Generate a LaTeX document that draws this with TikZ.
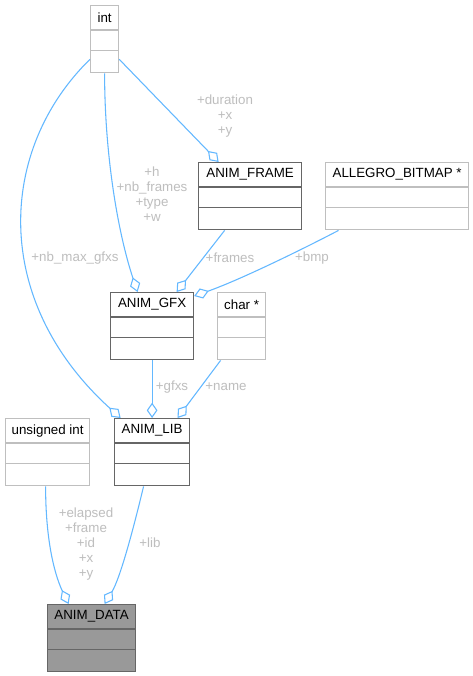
\documentclass[tikz,border=0pt]{standalone}
\usepackage{fontspec}
\setmainfont{Liberation Sans}
\usetikzlibrary{arrows.meta}
\definecolor{edgeblue}{HTML}{63B8FF}
\definecolor{labelgray}{HTML}{BEBEBE}
\definecolor{boxdark}{HTML}{666666}
\definecolor{boxlight}{HTML}{BFBFBF}
\definecolor{boxfill}{HTML}{999999}
\tikzset{
  cls/.style={line width=0.9pt, minimum height=18pt, inner sep=0pt, anchor=north west,
    font=\fontsize{10}{12}\selectfont},
  darkcls/.style={draw=boxdark},
  lightcls/.style={draw=boxlight},
  filledcls/.style={draw=boxdark, fill=boxfill},
  edge/.style={draw=edgeblue, line width=0.8pt, -{Diamond[open,length=11.5pt,width=8pt]}},
  lbl/.style={text=labelgray, align=center, inner sep=0pt, font=\fontsize{10}{11.25}\selectfont}
}
% name, x, y, width (px), style, title
\newcommand{\classbox}[6]{%
  \node[cls,#5,minimum width=#4*0.75pt] (#1) at (#2,#3) {#6};
  \node[cls,#5,minimum width=#4*0.75pt,minimum height=31.5pt,anchor=north] (#1-b) at (#1.south) {};
  \draw[#5,line width=0.9pt] ([yshift=-15pt]#1-b.north west) -- ([yshift=-15pt]#1-b.north east);
}
\begin{document}
\begin{tikzpicture}[x=0.75pt,y=-0.75pt]
  \path[fill=white,use as bounding box] (0,0) rectangle (473,676);
  % Classes
  \classbox{int}{90}{5}{28}{lightcls}{int}
  \classbox{frame}{198}{162}{103}{darkcls}{ANIM\_FRAME}
  \classbox{bitmap}{325}{162}{143}{lightcls}{ALLEGRO\_BITMAP *}
  \classbox{gfx}{110}{292}{83}{darkcls}{ANIM\_GFX}
  \classbox{char}{217}{292}{48}{lightcls}{char *}
  \classbox{lib}{114}{418}{75}{darkcls}{ANIM\_LIB}
  \classbox{uint}{5}{418}{84}{lightcls}{unsigned int}
  \classbox{data}{47}{604}{88}{filledcls}{ANIM\_DATA}
  % Members
  \draw[edge] ([yshift=-5.6pt]int-b.east) -- ([xshift=-23.6pt]frame.north);
  \draw[edge] (int-b.south) .. controls +(0,80) and +(-20,-60) .. ([xshift=-10.9pt]gfx.north);
  \draw[edge] ([yshift=-5.6pt]int-b.west) .. controls +(-92,90) and +(-130,-118) .. ([xshift=-23.6pt]lib.north);
  \draw[edge] ([xshift=-19.1pt]frame-b.south) -- ([xshift=18.4pt]gfx.north);
  \draw[edge] ([xshift=-43.9pt]bitmap-b.south) .. controls +(-50,26) and +(40,-14) .. ([yshift=-3pt]gfx.north east);
  \draw[edge] (gfx-b.south) -- (lib.north);
  \draw[edge] ([xshift=-15.75pt]char-b.south) -- ([xshift=19.1pt]lib.north);
  \draw[edge] ([xshift=-1.5pt]uint-b.south) .. controls +(0,60) and +(-12,-25) .. ([xshift=-17.25pt]data.north);
  \draw[edge] ([xshift=-6.4pt]lib-b.south) .. controls +(-12,50) and +(15,-25) .. ([xshift=9.75pt]data.north);
  % Labels
  \node[lbl] (l-frame) at (225,116) {+duration\\+x\\+y};
  \node[lbl] (l-gfx) at (152,194) {+h\\+nb\_frames\\+type\\+w};
  \node[lbl] (l-max) at (75,258) {+nb\_max\_gfxs};
  \node[lbl] (l-frames) at (230,258) {+frames};
  \node[lbl] (l-bmp) at (312,258) {+bmp};
  \node[lbl] (l-gfxs) at (172,387) {+gfxs};
  \node[lbl] (l-name) at (226,387) {+name};
  \node[lbl] (l-data) at (86,544) {+elapsed\\+frame\\+id\\+x\\+y};
  \node[lbl] (l-lib) at (150,543) {+lib};
\end{tikzpicture}
\end{document}
